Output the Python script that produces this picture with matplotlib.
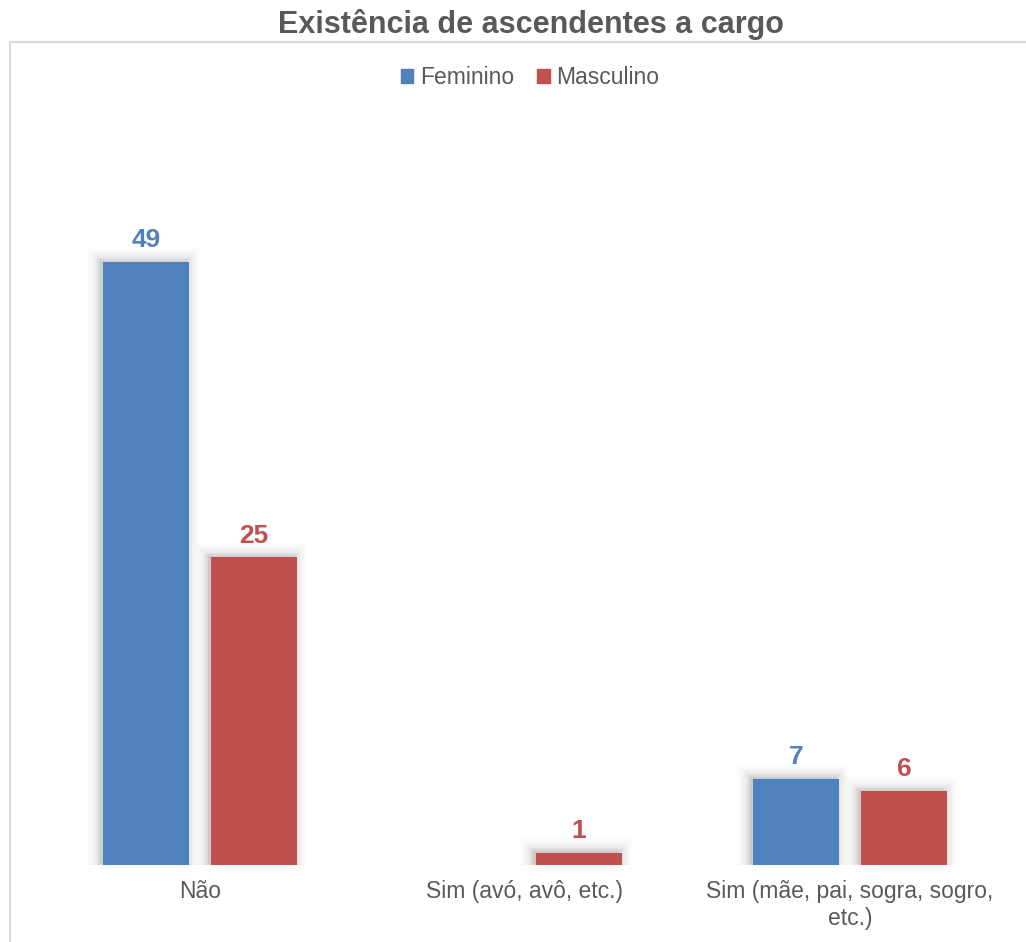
import matplotlib.pyplot as plt
import matplotlib.patheffects as pe
from matplotlib.patches import Rectangle
import numpy as np

categorias = ['Não', 'Sim (avó, avô, etc.)', 'Sim (mãe, pai, sogra, sogro,\netc.)']
feminino = [49, 0, 7]
masculino = [25, 1, 6]
series = ['Feminino', 'Masculino']
cores = ['#4F81BD', '#C0504D']
cinza = '#595959'

plt.rcParams['font.family'] = ['Liberation Sans', 'DejaVu Sans']

W, H = 1026, 942
fig = plt.figure(figsize=(W / 100, H / 100), dpi=100)

# moldura cinzenta clara (só esquerda e topo visíveis)
fig.patches.append(Rectangle((10 / W, -0.1), 1.2, (942 - 42) / H + 0.1,
                             transform=fig.transFigure, fill=False,
                             edgecolor='#d9d9d9', linewidth=1.5))

ax = fig.add_axes([37.5 / W, 77 / H, 975 / W, (865 - 126.6) / H])
ax.set_xlim(-0.5, 2.5)
ax.set_ylim(0, 60)

x = np.arange(len(categorias))
largura = 0.265
desl = 0.166

# sombra difusa, puxada para a esquerda/cima
sombra = [pe.withStroke(linewidth=lw, foreground='#000000', alpha=a, offset=(-2, 1))
          for lw, a in [(20, 0.008), (17, 0.01), (14, 0.014), (11, 0.018),
                        (8, 0.024), (5, 0.03), (3, 0.035)]] + [pe.Normal()]

for valores, cor, d in [(feminino, cores[0], -desl), (masculino, cores[1], desl)]:
    for xi, v in zip(x, valores):
        if v == 0:
            continue
        b = ax.bar(xi + d, v, width=largura, color=cor)
        b[0].set_path_effects(sombra)
        ax.annotate(str(v), (xi + d, v), xytext=(0, 7), textcoords='offset points',
                    ha='center', va='bottom', color=cor, fontsize=19,
                    fontweight='bold')

for s in ax.spines.values():
    s.set_visible(False)
ax.set_yticks([])
ax.set_xticks(x)
ax.set_xticklabels(categorias, fontsize=16.5, color=cinza)
ax.tick_params(axis='x', length=0, pad=11)

# legenda
handles = [Rectangle((0, 0), 1, 1, color=c) for c in cores]
fig.legend(handles, series, loc='center', bbox_to_anchor=(530 / W, 1 - 78 / H),
           ncol=2, frameon=False, fontsize=16.5, labelcolor=cinza,
           handlelength=0.55, handleheight=0.55, handletextpad=0.3,
           columnspacing=1.0)

fig.text(531 / W, 1 - 24 / H, 'Existência de ascendentes a cargo',
         ha='center', va='center', fontsize=22, fontweight='bold', color=cinza,
         family=['Liberation Sans Narrow', 'Liberation Sans', 'DejaVu Sans'])

fig.savefig('out.png', dpi=100)
